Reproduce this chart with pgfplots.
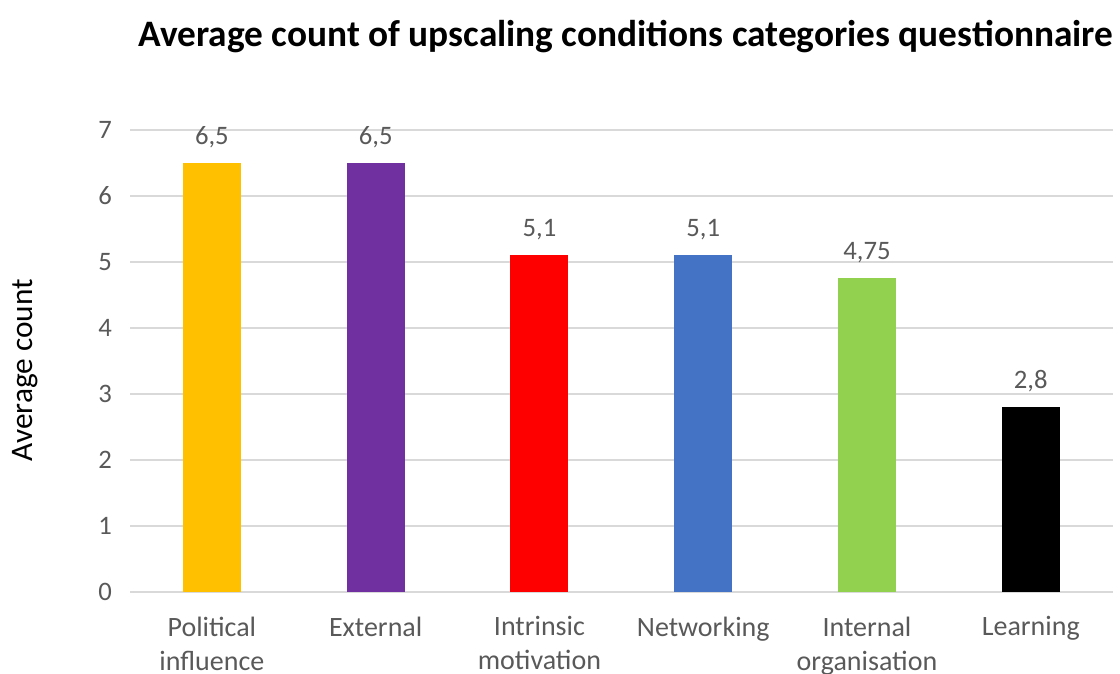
\documentclass[border=0pt]{standalone}
\usepackage{pgfplots}
\pgfplotsset{compat=1.18}
\usepackage{fontspec}
\setmainfont{Carlito}
\definecolor{cYellow}{HTML}{FFC000}
\definecolor{cPurple}{HTML}{7030A0}
\definecolor{cRed}{HTML}{FF0000}
\definecolor{cBlue}{HTML}{4472C4}
\definecolor{cGreen}{HTML}{92D050}
\definecolor{cBlack}{HTML}{000000}
\definecolor{gridgray}{HTML}{D9D9D9}
\definecolor{textgray}{HTML}{595959}
\begin{document}
\begin{tikzpicture}
% fixed page frame (840pt x 505.5pt)
\useasboundingbox (-97.5pt,-61.5pt) rectangle (742.5pt,444pt);
\begin{axis}[
  at={(0pt,0pt)}, anchor=south west,
  scale only axis,
  width=737pt, height=346.5pt,
  xmin=-0.5, xmax=5.5,
  ymin=0, ymax=7,
  ytick={0,1,...,7},
  xtick={0,1,2,3,4,5},
  xticklabels={Political\\influence, External, Intrinsic\\motivation, Networking, Internal\\organisation, Learning},
  xticklabel style={align=center, font=\fontsize{21}{25.5}\selectfont, text=textgray, yshift=-15pt},
  yticklabel style={font=\fontsize{20}{24}\selectfont, text=textgray, xshift=-10pt},
  /pgf/number format/assume math mode=true,
  major tick length=0pt,
  axis x line*=bottom,
  axis y line*=left,
  x axis line style={draw=gridgray, line width=1.2pt, -},
  y axis line style={draw=none},
  ymajorgrids,
  grid style={draw=gridgray, line width=1.2pt},
  ylabel={Average count},
  ylabel style={at={(axis description cs:-0.107,0.48)}, anchor=center, rotate=0, font=\fontsize{23.5}{28}\selectfont, text=black},
  ybar, bar width=43.5pt, bar shift=0pt,
  every axis plot/.append style={draw=none},
  nodes near coords,
  point meta=explicit symbolic,
  every node near coord/.append style={font=\fontsize{20}{24}\selectfont, text=textgray, anchor=south, yshift=8pt},
  clip=false,
]
\addplot[fill=cYellow] coordinates {(0,6.5) [6,5]};
\addplot[fill=cPurple] coordinates {(1,6.5) [6,5]};
\addplot[fill=cRed]    coordinates {(2,5.1) [5,1]};
\addplot[fill=cBlue]   coordinates {(3,5.1) [5,1]};
\addplot[fill=cGreen]  coordinates {(4,4.75) [4,75]};
\addplot[fill=cBlack]  coordinates {(5,2.8) [2,8]};
\end{axis}
\node[font=\fontsize{28}{34}\selectfont\bfseries, anchor=base] at (372pt,409pt) {Average count of upscaling conditions categories questionnaire};
\end{tikzpicture}
\end{document}
